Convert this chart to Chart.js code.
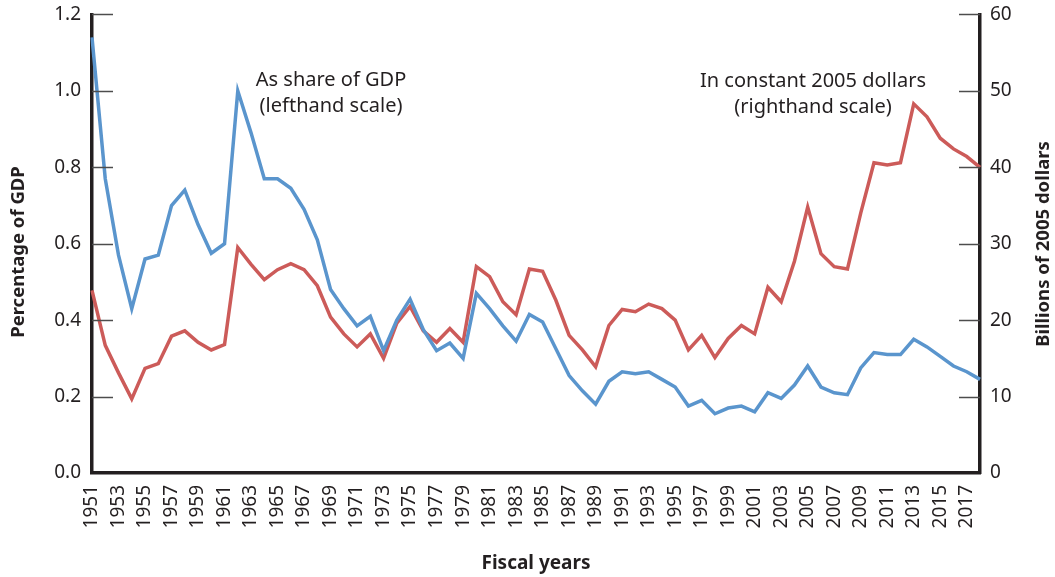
<!DOCTYPE html>
<html>
<head>
<meta charset="utf-8">
<script src="https://cdn.jsdelivr.net/npm/chart.js@4"></script>
<style>
  html, body { margin: 0; padding: 0; background: #fff; }
  #wrap { width: 1055px; height: 577px; }
</style>
</head>
<body>
<div id="wrap"><canvas id="chart" width="1055" height="577"></canvas></div>
<script>
const years = [];
for (let y = 1951; y <= 2018; y++) years.push(String(y));

// as share of GDP (percent, left scale)
const shareOfGdp = [
  1.14, 0.77, 0.57, 0.43, 0.56, 0.57, 0.70, 0.74, 0.65, 0.575,
  0.60, 1.00, 0.89, 0.77, 0.77, 0.745, 0.69, 0.61, 0.48, 0.43,
  0.385, 0.41, 0.32, 0.40, 0.455, 0.375, 0.32, 0.34, 0.30, 0.47,
  0.43, 0.385, 0.345, 0.415, 0.395, 0.325, 0.255, 0.215, 0.18, 0.24,
  0.265, 0.26, 0.265, 0.245, 0.225, 0.175, 0.19, 0.155, 0.17, 0.175,
  0.16, 0.21, 0.195, 0.23, 0.28, 0.225, 0.21, 0.205, 0.275, 0.315,
  0.31, 0.31, 0.35, 0.33, 0.305, 0.28, 0.265, 0.245
];

// in constant 2005 dollars (billions, right scale)
const constantDollars = [
  23.9, 16.7, 13.1, 9.7, 13.7, 14.3, 17.9, 18.6, 17.1, 16.1,
  16.8, 29.5, 27.3, 25.3, 26.6, 27.4, 26.6, 24.5, 20.4, 18.2,
  16.5, 18.2, 15.0, 19.6, 21.8, 18.6, 17.1, 18.9, 17.1, 27.0,
  25.7, 22.4, 20.7, 26.7, 26.4, 22.6, 18.0, 16.1, 13.9, 19.3,
  21.4, 21.1, 22.1, 21.5, 20.0, 16.1, 18.0, 15.1, 17.6, 19.3,
  18.2, 24.3, 22.4, 27.7, 34.8, 28.7, 27.0, 26.7, 34.0, 40.6,
  40.3, 40.6, 48.3, 46.6, 43.8, 42.4, 41.4, 40.0
];

const leftTicks = [0, 0.2, 0.4, 0.6, 0.8, 1.0, 1.2];
const rightTicks = [0, 10, 20, 30, 40, 50, 60];

const FONT = "'Noto Sans', 'Open Sans', sans-serif";
const INK = "#231f20";

const decorations = {
  id: "decorations",
  afterDatasetsDraw(chart) {
    const { ctx, chartArea, scales } = chart;
    ctx.save();
    // inward tick marks on both y axes
    ctx.strokeStyle = "#4d4d4d";
    ctx.lineWidth = 1.5;
    for (const v of leftTicks) {
      if (v === 0) continue;
      const py = Math.round(scales.y.getPixelForValue(v)) + 0.5;
      ctx.beginPath();
      ctx.moveTo(chartArea.left, py);
      ctx.lineTo(chartArea.left + 21, py);
      ctx.stroke();
    }
    for (const v of rightTicks) {
      if (v === 0) continue;
      const py = Math.round(scales.y1.getPixelForValue(v)) + 0.5;
      ctx.beginPath();
      ctx.moveTo(chartArea.right - 21, py);
      ctx.lineTo(chartArea.right, py);
      ctx.stroke();
    }

    ctx.fillStyle = INK;
    ctx.textAlign = "center";
    ctx.textBaseline = "middle";

    // series notes
    ctx.font = "20px " + FONT;
    ctx.fillText("As share of GDP", 331, 80);
    ctx.fillText("(lefthand scale)", 331, 106);
    ctx.fillText("In constant 2005 dollars", 813, 81);
    ctx.fillText("(righthand scale)", 813, 107);

    // axis titles
    ctx.font = "bold 19px " + FONT;
    ctx.fillText("Fiscal years", 536, 564);

    ctx.font = "bold 18.5px " + FONT;
    ctx.save();
    ctx.translate(19, 252);
    ctx.rotate(-Math.PI / 2);
    ctx.fillText("Percentage of GDP", 0, 0);
    ctx.restore();

    ctx.save();
    ctx.translate(1044, 244);
    ctx.rotate(-Math.PI / 2);
    ctx.fillText("Billions of 2005 dollars", 0, 0);
    ctx.restore();

    ctx.restore();
  }
};

new Chart(document.getElementById("chart"), {
  type: "line",
  data: {
    labels: years,
    datasets: [
      {
        label: "As share of GDP (lefthand scale)",
        data: shareOfGdp,
        yAxisID: "y",
        borderColor: "#5a95cd",
        borderWidth: 3.5,
        pointRadius: 0,
        tension: 0
      },
      {
        label: "In constant 2005 dollars (righthand scale)",
        data: constantDollars,
        yAxisID: "y1",
        borderColor: "#cc5b59",
        borderWidth: 3.5,
        pointRadius: 0,
        tension: 0
      }
    ]
  },
  options: {
    responsive: false,
    animation: false,
    layout: { padding: { top: 14, left: 0, right: 0, bottom: 0 } },
    plugins: {
      legend: { display: false },
      tooltip: { enabled: false }
    },
    scales: {
      x: {
        type: "category",
        offset: false,
        grid: { display: false },
        border: { display: true, color: INK, width: 3.5 },
        ticks: {
          autoSkip: false,
          minRotation: 90,
          maxRotation: 90,
          padding: 4,
          color: INK,
          font: { family: FONT, size: 19 },
          callback: function (value) {
            const yr = Number(this.getLabelForValue(value));
            return yr % 2 === 1 ? String(yr) : "";
          }
        },
        afterFit(scale) { scale.height = 104; }
      },
      y: {
        position: "left",
        min: 0,
        max: 1.2,
        grid: { display: false },
        border: { display: true, color: INK, width: 3.5 },
        ticks: {
          stepSize: 0.2,
          padding: 3,
          color: INK,
          font: { family: FONT, size: 19 },
          callback: (v) => v.toFixed(1)
        },
        afterFit(scale) { scale.width = 92; }
      },
      y1: {
        position: "right",
        min: 0,
        max: 60,
        grid: { display: false },
        border: { display: true, color: INK, width: 3.5 },
        ticks: {
          stepSize: 10,
          padding: 2,
          color: INK,
          font: { family: FONT, size: 19 }
        },
        afterFit(scale) { scale.width = 75; }
      }
    }
  },
  plugins: [decorations]
});
</script>
</body>
</html>
